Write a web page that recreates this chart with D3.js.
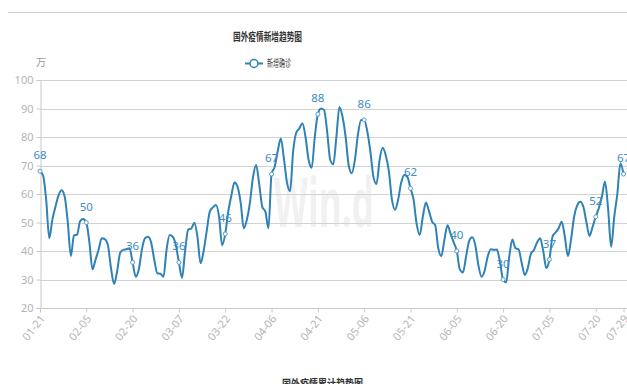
<!DOCTYPE html>
<html>
<head>
<meta charset="utf-8">
<script src="https://cdn.jsdelivr.net/npm/d3@7/dist/d3.min.js"></script>
<style>
  html, body { margin: 0; padding: 0; background: #fff; }
  svg { display: block; }
</style>
</head>
<body>
<svg id="chart" width="627" height="384"></svg>
<script>
// Daily new confirmed cases outside China (unit: 10k), 2021-01-21 .. 2021-07-29
const startDate = "2021-01-21";
const endDate = "2021-07-29";

const newCases = [
  68, 66.5, 58, 44.5, 51, 55.5, 59.5, 61.3, 59, 50,
  38.2, 45.5, 45.7, 50.5, 51.2, 50, 43, 33.6, 37, 40.5,
  44.5, 44.2, 42, 34, 28.4, 33, 39.5, 40.4, 40.6, 41,
  36, 31, 33.5, 40.5, 44.5, 45, 43, 37, 32.2, 32,
  31, 40.5, 45.6, 45, 42, 36, 30.6, 40, 47.5, 47.9,
  49.9, 45, 35.7, 40, 47, 53.8, 55.3, 56.1, 52, 42,
  46, 54, 59.6, 64, 62.5, 57, 48, 51, 57, 66,
  70.2, 63.5, 55.5, 53.8, 48, 67, 69.5, 75, 79.5, 72.5,
  64, 61, 75, 81.5, 83, 84.8, 80, 72, 69.2, 80,
  88, 90, 89.5, 82, 72, 70.4, 80, 90.5, 87, 80,
  70, 67.3, 72, 81, 86, 86, 82, 75, 66, 63.5,
  72, 76.2, 73.5, 68, 58, 54.5, 58, 64, 66.7, 66,
  62, 58, 49.5, 45.6, 52, 57, 54, 50.3, 49.1, 41,
  38.2, 44, 49, 46, 43, 40, 33.5, 32.5, 38, 43.5,
  44.8, 42, 35, 31, 33, 38, 40.6, 40.4, 40.5, 36,
  30, 29, 38, 44, 41, 40.6, 36, 31.6, 34, 39,
  40.4, 43, 44.5, 40, 34, 37, 45, 46.5, 48, 50.3,
  45, 38.2, 44, 52, 56, 57.3, 55.5, 50, 45.3, 48.5,
  52, 55, 59, 64.3, 55, 41.5, 52, 60, 70.8, 67
];

// Axis tick labels (every 15 days, plus the last day)
const tickLabels = ["01-21", "02-05", "02-20", "03-07", "03-22", "04-06", "04-21",
                    "05-06", "05-21", "06-05", "06-20", "07-05", "07-20", "07-29"];
const yTicks = [20, 30, 40, 50, 60, 70, 80, 90, 100];

const chartTitle = "国外疫情新增趋势图";
const seriesName = "新增确诊";
const unitLabel = "万";
const nextTitle = "国外疫情累计趋势图";

const fmt = d3.timeFormat("%m-%d");
const days = d3.timeDay.range(new Date(startDate + "T00:00:00"),
                              d3.timeDay.offset(new Date(endDate + "T00:00:00"), 1));
const categories = days.map(fmt);
const data = categories.map((c, i) => ({ cat: c, value: newCases[i] }));

const svg = d3.select("#chart");
const lineColor = "#2e82b5";
const gridColor = "#d2d2d2";
const axisText = "#b4b4b4";
const cjk = "'Noto Sans CJK SC', 'Noto Sans', sans-serif";
const num = "'Noto Sans', 'DejaVu Sans', sans-serif";

const margin = { left: 40, right: 627 - 623.5, top: 80, bottom: 384 - 308 };
const x = d3.scalePoint().domain(categories).range([margin.left, 627 - margin.right]);
const y = d3.scaleLinear().domain([20, 100]).range([308, 80]);

// Separator line on top
svg.append("line")
  .attr("x1", 8).attr("x2", 627).attr("y1", 12.5).attr("y2", 12.5)
  .attr("stroke", "#cfcfcf").attr("stroke-width", 1);

// Title
svg.append("text")
  .attr("x", 233).attr("y", 41)
  .attr("textLength", 69).attr("lengthAdjust", "spacingAndGlyphs")
  .style("font-family", cjk).style("font-size", "11px").style("font-weight", "bold")
  .attr("fill", "#333").text(chartTitle);

// Legend
const lg = svg.append("g");
lg.append("line").attr("x1", 245).attr("x2", 263).attr("y1", 63.5).attr("y2", 63.5)
  .attr("stroke", lineColor).attr("stroke-width", 2);
lg.append("circle").attr("cx", 254).attr("cy", 63.5).attr("r", 4)
  .attr("fill", "#fff").attr("stroke", lineColor).attr("stroke-width", 1.5);
lg.append("text").attr("x", 267).attr("y", 67)
  .attr("textLength", 24).attr("lengthAdjust", "spacingAndGlyphs")
  .style("font-family", cjk).style("font-size", "10.5px")
  .attr("fill", "#444").text(seriesName);

// Unit
svg.append("text").attr("x", 36).attr("y", 66)
  .style("font-family", cjk).style("font-size", "10px")
  .attr("fill", "#999").text(unitLabel);

// Watermark
svg.append("text").attr("x", 274).attr("y", 227)
  .attr("textLength", 100).attr("lengthAdjust", "spacingAndGlyphs")
  .style("font-family", "'Open Sans', sans-serif").style("font-size", "68px")
  .style("font-weight", "bold")
  .attr("fill", "#f1f1f1").text("Win.d");

// Y grid lines
svg.append("g").selectAll("line").data(yTicks.filter(v => v > 20)).join("line")
  .attr("x1", 40).attr("x2", 627)
  .attr("y1", d => Math.round(y(d)) + 0.5).attr("y2", d => Math.round(y(d)) + 0.5)
  .attr("stroke", gridColor).attr("stroke-width", 1);

// Y axis
const yAxis = svg.append("g").attr("transform", "translate(40.5,0)")
  .call(d3.axisLeft(y).tickValues(yTicks).tickSize(4).tickPadding(3));
yAxis.select(".domain").attr("stroke", "#c8c8c8");
yAxis.selectAll(".tick line").attr("stroke", "#c8c8c8");
yAxis.selectAll(".tick text").attr("fill", axisText)
  .style("font-family", num).style("font-size", "11px");

// X axis
const xAxis = svg.append("g").attr("transform", "translate(0,308.5)")
  .call(d3.axisBottom(x).tickValues(tickLabels).tickSize(4).tickSizeOuter(0));
xAxis.select(".domain").attr("stroke", "#c8c8c8").attr("d", "M40,0H627");
xAxis.selectAll(".tick line").attr("stroke", "#c8c8c8");
xAxis.selectAll(".tick text")
  .attr("fill", axisText)
  .style("font-family", num).style("font-size", "11px")
  .attr("text-anchor", "end")
  .attr("dy", "0.35em")
  .attr("transform", "translate(2,8) rotate(-52)")
  .attr("y", 0).attr("x", 0);

// Line
const line = d3.line()
  .x(d => x(d.cat)).y(d => y(d.value))
  .curve(d3.curveMonotoneX);
svg.append("path").datum(data)
  .attr("d", line)
  .attr("fill", "none").attr("stroke", lineColor).attr("stroke-width", 2)
  .attr("stroke-linejoin", "round");

// Markers and value labels on the tick days
const marked = data.filter(d => tickLabels.includes(d.cat));
svg.append("g").selectAll("circle").data(marked).join("circle")
  .attr("cx", d => x(d.cat)).attr("cy", d => y(d.value)).attr("r", 2)
  .attr("fill", "#fff").attr("stroke", "#5a9cc8").attr("stroke-width", 1);
svg.append("g").selectAll("text").data(marked).join("text")
  .attr("x", d => x(d.cat)).attr("y", d => y(d.value) - 12)
  .attr("text-anchor", "middle")
  .style("font-family", num).style("font-size", "11.5px")
  .attr("fill", "#3d8cc2")
  .text(d => d.value);

// Title of the chart below (partly visible)
svg.append("text")
  .attr("x", 282).attr("y", 388)
  .attr("textLength", 81).attr("lengthAdjust", "spacingAndGlyphs")
  .style("font-family", cjk).style("font-size", "11px").style("font-weight", "bold")
  .attr("fill", "#333").text(nextTitle);
</script>
</body>
</html>
